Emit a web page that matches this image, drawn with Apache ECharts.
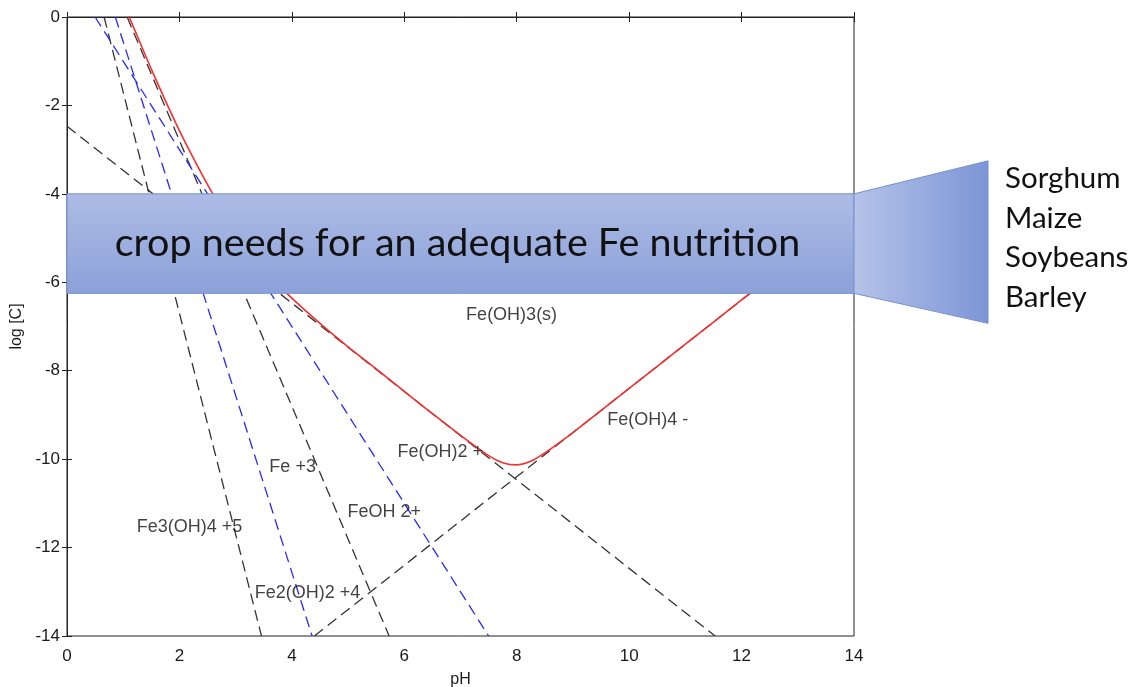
<!DOCTYPE html>
<html lang="en">
<head>
<meta charset="UTF-8">
<title>Fe(III) solubility</title>
<script src="https://cdn.jsdelivr.net/npm/echarts@6/dist/echarts.min.js"></script>
<style>
    html, body { margin: 0; padding: 0; background: #fff; }
    #main { width: 1137px; height: 687px; }
</style>
</head>
<body>
<div id="main"></div>
<script>
// dashed species lines, end points as [pH, log C]
var fe3Line = [[1.07, 0], [5.73, -14]];
var feOH2Line = [[0.5, 0], [7.5, -14]];
var feOH2PlusLine = [[0, -2.47], [11.53, -14]];
var feOH4Line = [[4.4, -14], [14, -4.4]];
var fe2OH2Line = [[0.86, 0], [4.36, -14]];
var fe3OH4Line = [[0.66, 0], [3.46, -14]];

// total soluble Fe (red curve)
var totalPH = [1.1, 1.25, 1.5, 1.75, 2, 2.25, 2.5, 2.75, 3, 3.25, 3.5, 3.75, 4, 4.5, 5, 5.5, 6, 6.5, 7, 7.5, 7.75, 8, 8.25, 8.5, 9, 9.5, 10, 11, 12, 13, 14];
var totalLog = [0.02, -0.43, -1.18, -1.89, -2.57, -3.2, -3.79, -4.33, -4.82, -5.27, -5.67, -6.03, -6.36, -6.93, -7.46, -7.96, -8.47, -8.97, -9.46, -9.92, -10.08, -10.13, -10.05, -9.86, -9.4, -8.9, -8.4, -7.4, -6.4, -5.4, -4.4];

// species labels: text and anchor [pH, log C]
var labelNames = ['Fe(OH)3(s)', 'Fe(OH)4 -', 'Fe(OH)2 +', 'Fe +3', 'FeOH 2+', 'Fe3(OH)4 +5', 'Fe2(OH)2 +4'];
var labelPos = [[7.1, -6.74], [9.61, -9.12], [5.88, -9.84], [3.6, -10.18], [4.99, -11.2], [1.24, -11.54], [3.34, -13.03]];

// crop list on the right
var crops = ['Sorghum', 'Maize', 'Soybeans', 'Barley'];
var boxText = 'crop needs for an adequate Fe nutrition';
var boxRange = [-4, -6.25];

var chart = echarts.init(document.getElementById('main'));

function dashed(name, data, color) {
    return {
        name: name,
        type: 'line',
        data: data,
        symbol: 'none',
        silent: true,
        lineStyle: { color: color, width: 1.3, type: [11, 6] }
    };
}

var labelData = labelNames.map(function (n, i) {
    return { name: n, value: labelPos[i] };
});

var axisText = { fontFamily: 'Liberation Sans', fontSize: 17, color: '#1a1a1a' };

var option = {
    animation: false,
    grid: {
        left: 67, right: 283, top: 17, bottom: 51,
        outerBoundsMode: 'none', containLabel: false,
        show: true, borderColor: '#222', borderWidth: 1
    },
    xAxis: [{
        type: 'value', min: 0, max: 14, interval: 2,
        name: 'pH', nameLocation: 'middle', nameGap: 36,
        nameTextStyle: { fontFamily: 'Liberation Sans', fontSize: 16, color: '#1a1a1a' },
        axisLine: { show: true, lineStyle: { color: '#222' } },
        axisTick: { show: true, inside: true, length: 5, lineStyle: { color: '#222' } },
        axisLabel: Object.assign({ margin: 12 }, axisText),
        splitLine: { show: false }
    }, {
        type: 'value', min: 0, max: 14, interval: 2, position: 'top',
        axisLine: { show: true, lineStyle: { color: '#222' } },
        axisTick: { show: true, inside: true, length: 5, lineStyle: { color: '#222' } },
        axisLabel: { show: false },
        splitLine: { show: false }
    }],
    yAxis: [{
        type: 'value', min: -14, max: 0, interval: 2,
        name: 'log [C]', nameLocation: 'middle', nameGap: 42,
        nameTextStyle: { fontFamily: 'Liberation Sans', fontSize: 16, color: '#1a1a1a' },
        axisLine: { show: true, lineStyle: { color: '#222' } },
        axisTick: { show: true, inside: true, length: 5, lineStyle: { color: '#222' } },
        axisLabel: Object.assign({ margin: 7 }, axisText),
        splitLine: { show: false }
    }, {
        type: 'value', min: -14, max: 0, interval: 2, position: 'right',
        axisLine: { show: true, lineStyle: { color: '#222' } },
        axisTick: { show: true, inside: true, length: 5, lineStyle: { color: '#222' } },
        axisLabel: { show: false },
        splitLine: { show: false }
    }],
    series: [
        dashed('Fe3(OH)4 +5', fe3OH4Line, '#333'),
        dashed('Fe2(OH)2 +4', fe2OH2Line, '#2a2af0'),
        dashed('Fe +3', fe3Line, '#333'),
        dashed('FeOH 2+', feOH2Line, '#2a2af0'),
        dashed('Fe(OH)2 +', feOH2PlusLine, '#333'),
        dashed('Fe(OH)4 -', feOH4Line, '#333'),
        {
            name: 'total',
            type: 'line',
            data: totalPH.map(function (p, i) { return [p, totalLog[i]]; }),
            symbol: 'none',
            smooth: 0.3,
            silent: true,
            lineStyle: { color: '#f43030', width: 1.6 }
        },
        {
            name: 'labels',
            type: 'scatter',
            data: labelData,
            symbolSize: 0,
            silent: true,
            z: 5,
            label: {
                show: true, position: 'right', distance: 0,
                formatter: '{b}',
                fontFamily: 'Liberation Sans', fontSize: 18, color: '#111'
            }
        }
    ]
};
chart.setOption(option);

// blue overlay box, tied to the axes
var a = chart.convertToPixel({ gridIndex: 0 }, [0, boxRange[0]]);
var b = chart.convertToPixel({ gridIndex: 0 }, [14, boxRange[1]]);
var boxH = b[1] - a[1];

var graphics = [{
    type: 'rect', z: 100,
    shape: { x: a[0], y: a[1], width: b[0] - a[0], height: boxH },
    style: {
        fill: new echarts.graphic.LinearGradient(0, 0, 0, 1, [
            { offset: 0, color: '#adbce5' },
            { offset: 1, color: '#8ca1d9' }
        ]),
        stroke: '#7590d2', lineWidth: 1
    }
}, {
    type: 'text', z: 101,
    x: (a[0] + b[0]) / 2 - 3, y: a[1] + boxH / 2,
    style: {
        text: boxText, fontFamily: 'Lato', fontSize: 39.5, fill: '#111',
        align: 'center', verticalAlign: 'middle'
    }
}, {
    type: 'polygon', z: 100,
    shape: { points: [[b[0], a[1]], [b[0] + 134, a[1] - 33], [b[0] + 134, b[1] + 30], [b[0], b[1]]] },
    style: {
        fill: new echarts.graphic.LinearGradient(0, 0, 1, 0, [
            { offset: 0, color: '#b6c3e8' },
            { offset: 1, color: '#7c95d6' }
        ]),
        stroke: '#7590d2', lineWidth: 1
    }
}];
crops.forEach(function (c, i) {
    graphics.push({
        type: 'text', z: 101,
        x: b[0] + 151, y: a[1] - 15 + i * 39.5,
        style: { text: c, fontFamily: 'Lato', fontSize: 29.5, fill: '#111', verticalAlign: 'middle' }
    });
});
chart.setOption({ graphic: graphics });
</script>
</body>
</html>
